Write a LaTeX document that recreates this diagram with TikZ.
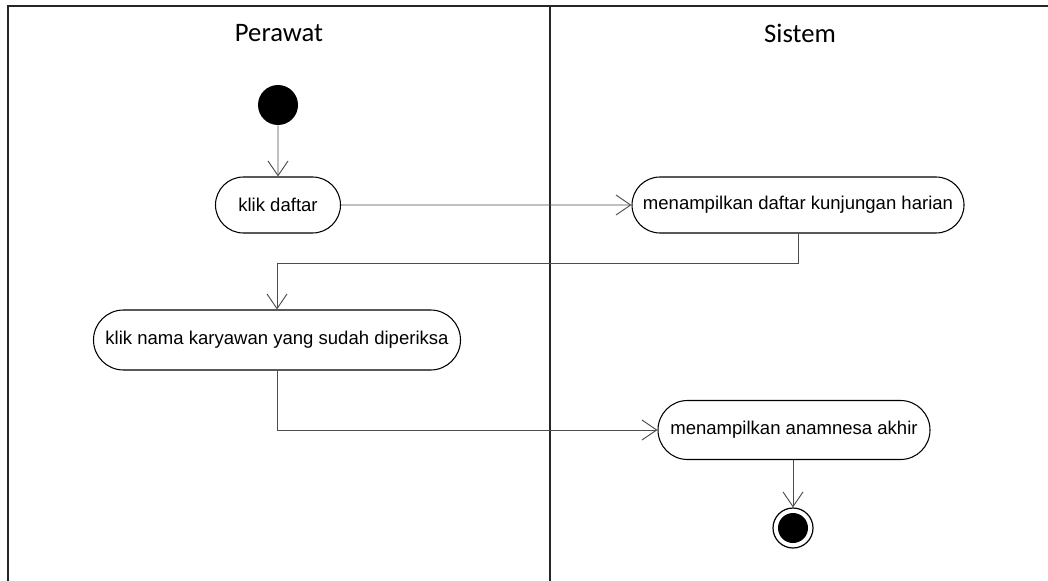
\documentclass[tikz,border=0pt]{standalone}
\usepackage{fontspec}
\setmainfont{Liberation Sans}
\newfontfamily\headfont{Carlito}
\usetikzlibrary{arrows.meta, shapes.misc}
\begin{document}
\begin{tikzpicture}[x=0.75pt, y=-0.75pt,
  lane/.style={line width=1.3pt, draw=black!85},
  lanetitle/.style={font=\headfont\fontsize{20}{24}\selectfont, inner sep=0pt},
  activity/.style={draw, rounded rectangle, rounded rectangle arc length=180,
    line width=0.8pt, fill=white,
    font=\fontsize{13.9}{16}\selectfont, inner sep=0pt, minimum height=56*0.75pt},
  flow/.style={draw=black!70, line width=0.7pt,
    -{Straight Barb[length=11pt, width=15pt, line width=0.7pt]}},
  startnode/.style={circle, fill=black, minimum size=40*0.75pt, inner sep=0pt}
]
\useasboundingbox (0,0) rectangle (1048,581);
% swimlane frame
\draw[lane] (8,581) -- (8,6) -- (1060,6);
\draw[lane] (550,6) -- (550,581);
\node[lanetitle] (perawat) at (279,33) {Perawat};
\node[lanetitle] (sistem) at (800,33) {Sistem};

% nodes
\node[startnode] (start) at (278,105) {};
\node[activity, minimum width=125*0.75pt] (daftar) at (278,205) {klik daftar};
\node[activity, minimum width=332*0.75pt] (kunjungan) at (798,205) {menampilkan daftar kunjungan harian};
\node[activity, minimum width=367*0.75pt, minimum height=60*0.75pt] (karyawan) at (277,340) {klik nama karyawan yang sudah diperiksa};
\node[activity, minimum width=272*0.75pt, minimum height=59*0.75pt] (anamnesa) at (794,430) {menampilkan anamnesa akhir};
\node[circle, draw=black, line width=0.9pt, minimum size=40*0.75pt, inner sep=0pt] (final) at (793,528) {};
\node[circle, fill=black, minimum size=30*0.75pt, inner sep=0pt] (finaldot) at (final.center) {};

% control flow
\draw[flow] (start) -- (daftar);
\draw[flow] (daftar) -- (kunjungan);
\draw[flow] (kunjungan.south) |- (277,263) -- (karyawan.north);
\draw[flow] (karyawan.south) |- (anamnesa.west);
\draw[flow] (anamnesa.south -| final) -- (final.north);
\end{tikzpicture}
\end{document}
